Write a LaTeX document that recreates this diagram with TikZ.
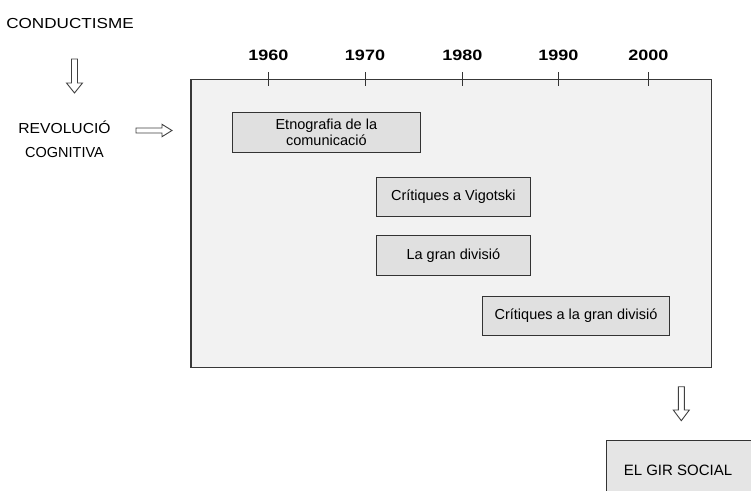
\documentclass[tikz,border=0pt]{standalone}
\usepackage{fontspec}
\setmainfont{Liberation Sans}
\newcommand\stretchx[2]{\scalebox{#1}[1]{#2}}
\begin{document}
\begin{tikzpicture}[x=1pt,y=-1pt,
  frame/.style={draw=black!78, fill=black!5, line width=1.2pt},
  topic/.style={draw=black!80, fill=black!12, line width=1pt, inner sep=0pt,
    align=center, font=\fontsize{14.5}{16}\selectfont},
  label/.style={inner sep=0pt, align=center, font=\fontsize{14.5}{23.7}\selectfont},
  year/.style={inner sep=0pt, font=\fontsize{15}{16}\bfseries},
  tick/.style={draw=black!80, line width=1pt},
  hollow/.style={draw=black!75, fill=white, line width=0.9pt, line join=miter}]
\useasboundingbox (0,0) rectangle (751,490);

% left column: the two earlier paradigms
\node[label] (cond) at (70,23.8) {\stretchx{1.18}{CONDUCTISME}};
\node[label] (rev) at (64.5,139) {\stretchx{1.08}{REVOLUCIÓ}\\COGNITIVA};
\draw[hollow] (71.5,59) -- (77.5,59) -- (77.5,83) -- (82.5,83) -- (74.5,93)
  -- (66.5,83) -- (71.5,83) -- cycle;
\draw[hollow] (136,128) -- (162,128) -- (162,124.3) -- (172,130.5)
  -- (162,136.7) -- (162,133) -- (136,133) -- cycle;

% timeline frame
\draw[frame] (191,79.5) rectangle (711.5,367.5);

% decade labels and ticks
\foreach \yr/\xx in {1960/268.3,1970/365,1980/462.3,1990/558.3,2000/648.3}{
  \node[year] (y\yr) at (\xx,55) {\stretchx{1.2}{\yr}};
  \draw[tick] (y\yr.south |- 0,72.3) -- (y\yr.south |- 0,86);
}

% research lines
\node[topic, minimum width=187.3pt, minimum height=40pt] (etno) at (326.35,132.3)
  {Etnografia de la\\comunicació};
\node[topic, minimum width=153.3pt, minimum height=39.4pt] (vigo) at (453.35,197)
  {Crítiques a Vigotski};
\node[topic, minimum width=153.3pt, minimum height=40pt] (gran) at (453.35,255.7)
  {La gran divisió};
\node[topic, minimum width=186.6pt, minimum height=39pt] (critgran) at (576,315.5)
  {Crítiques a la gran divisió};

% outcome
\draw[hollow] (678.3,386.7) -- (684.3,386.7) -- (684.3,410) -- (689.3,410)
  -- (681.3,420.7) -- (673.3,410) -- (678.3,410) -- cycle;
\draw[draw=black!80, fill=black!10, line width=1pt] (606.7,440) rectangle (790,530);
\node[label, font=\fontsize{15}{16}\selectfont] (gir) at (678,470) {EL GIR SOCIAL};
\end{tikzpicture}
\end{document}
